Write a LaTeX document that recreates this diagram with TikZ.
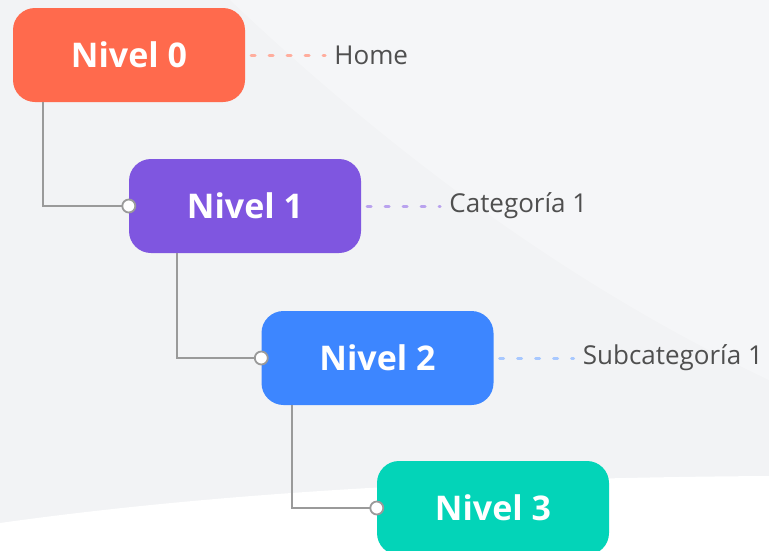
\documentclass[tikz,border=0pt]{standalone}
\usepackage{fontspec}
\setmainfont{Open Sans}
\usepackage{tikz}
\usetikzlibrary{positioning}
\definecolor{MapaBack}{HTML}{F2F3F5}
\definecolor{MapaCoral}{HTML}{FF6A4D}
\definecolor{MapaViolet}{HTML}{7F56E0}
\definecolor{MapaBlue}{HTML}{3D86FF}
\definecolor{MapaTeal}{HTML}{03D4B8}
\definecolor{MapaGray}{HTML}{9A9A9A}
\definecolor{MapaText}{HTML}{4F4F4F}

\begin{document}
\begin{tikzpicture}[x=1pt,y=-1pt,
  nivel/.style={rounded corners=22pt,minimum width=232pt,minimum height=94pt,text=white,font=\fontsize{34}{40}\selectfont\bfseries},
  etiqueta/.style={text=MapaText,font=\fontsize{26}{30}\selectfont,inner sep=0pt},
  enlace/.style={draw=MapaGray,line width=2pt},
  puerto/.style={circle,draw=MapaGray,fill=white,line width=1.8pt,minimum size=13pt,inner sep=0pt},
  guia/.style={line width=3pt,dash pattern=on 4pt off 14pt,line cap=round}]
  % background
  \clip (0,0) rectangle (769,550);
  \fill[MapaBack] (0,0) rectangle (769,550);
  \fill[white,opacity=.3] (230,0) .. controls (420,180) and (600,300) .. (769,380) -- (769,0) -- cycle;
  \fill[white] (0,523) .. controls (200,495) and (450,478) .. (769,476) -- (769,550) -- (0,550) -- cycle;
  % levels
  \foreach \i/\x/\y/\c in {0/129/55/MapaCoral,1/245/206/MapaViolet,2/377.5/358/MapaBlue,3/493/508/MapaTeal}
    \node[nivel,fill=\c] (n\i) at (\x,\y) {Nivel \i};
  % tree links
  \foreach \a/\b/\d in {0/1/30,1/2/48,2/3/31} {
    \draw[enlace] ([xshift=\d pt]n\a.south west) |- (n\b.west);
    \node[puerto] (p\b) at (n\b.west) {};
  }
  % page names
  \node[etiqueta,right=89pt of n0] (l0) {Home};
  \node[etiqueta,right=88pt of n1] (l1) {Categoría 1};
  \node[etiqueta,right=89pt of n2] (l2) {Subcategoría 1};
  \draw[guia,MapaCoral!55] ([xshift=6pt]n0.east) -- ([xshift=-9pt]l0.west);
  \draw[guia,MapaViolet!55] ([xshift=6pt]n1.east) -- ([xshift=-9pt]l1.west);
  \draw[guia,MapaBlue!45] ([xshift=6pt]n2.east) -- ([xshift=-9pt]l2.west);
\end{tikzpicture}
\end{document}
